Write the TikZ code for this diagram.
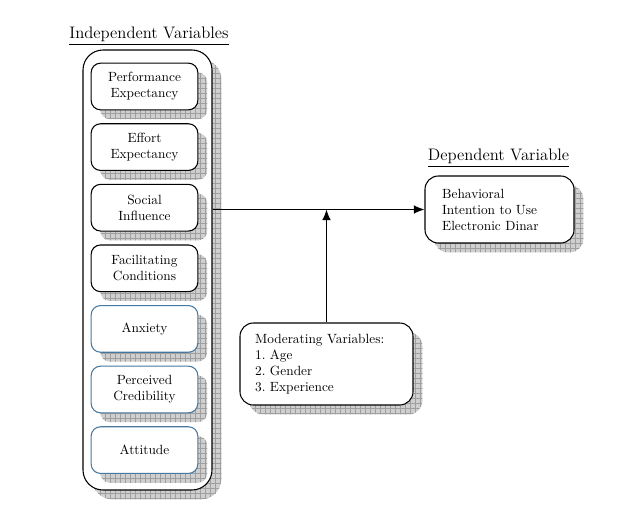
\documentclass[tikz,border=0pt]{standalone}
\usepackage{tikz}
\usepackage{xcolor}
\usetikzlibrary{shadows,patterns,arrows.meta}
\definecolor{credblue}{RGB}{70,120,160}
\pgfdeclarepatternformonly{shadowgrid}{\pgfqpoint{-0.5pt}{-0.5pt}}{\pgfqpoint{4.25pt}{4.25pt}}{\pgfqpoint{3.75pt}{3.75pt}}{
    \pgfsetlinewidth{0.35pt}
    \pgfpathmoveto{\pgfqpoint{0pt}{0pt}}\pgfpathlineto{\pgfqpoint{0pt}{3.8pt}}
    \pgfpathmoveto{\pgfqpoint{0pt}{0pt}}\pgfpathlineto{\pgfqpoint{3.8pt}{0pt}}
    \pgfusepath{stroke}}

\begin{document}
\begin{tikzpicture}[x=0.75pt,y=-0.75pt,
    gridshadow/.style={drop shadow={shadow xshift=7pt,shadow yshift=-7pt,opacity=1,fill=gray!38},
        drop shadow={shadow xshift=7pt,shadow yshift=-7pt,opacity=1,pattern=shadowgrid,pattern color=gray!75}},
    varbox/.style={draw,line width=0.8pt,fill=white,rounded corners=7pt,gridshadow,
        minimum width=80pt,minimum height=35pt,align=center,font=\fontsize{10}{12}\selectfont},
    notebox/.style={draw,line width=0.8pt,fill=white,rounded corners=10pt,gridshadow,
        align=left,font=\fontsize{10}{12}\selectfont\frenchspacing},
    heading/.style={font=\fontsize{12.5}{15}\selectfont},
    link/.style={line width=0.8pt,-{Latex[length=8pt,width=6.5pt]}}]
\useasboundingbox (0,0) rectangle (639,518);
\node[heading] (indeptitle) at (149,36) {\underline{Independent Variables}};
\node[heading] (deptitle) at (498.5,158) {\underline{Dependent Variable}};
\node[draw,line width=0.8pt,fill=white,rounded corners=15pt,gridshadow,
    minimum width=96.75pt,minimum height=330pt] (indep) at (147.5,270) {};
\foreach \nm/\txt/\col [count=\i from 0] in {perf/{Performance\\Expectancy}/black,
    effort/{Effort\\Expectancy}/black, social/{Social\\Influence}/black,
    facil/{Facilitating\\Conditions}/black, anx/{Anxiety}/credblue,
    cred/{Perceived\\Credibility}/credblue, att/{Attitude}/credblue}
    \node[varbox,draw=\col] (\nm) at (144.5,{86.5+60.6*\i}) {\txt};
\node[notebox,minimum width=111.75pt,minimum height=50.25pt,text width=86pt,inner xsep=12.75pt]
    (dep) at (499.5,209.5) {Behavioral\\Intention to Use\\Electronic Dinar};
\node[notebox,minimum width=129.75pt,minimum height=61.5pt,text width=107pt,inner xsep=11.25pt]
    (mod) at (326.5,364) {Moderating Variables:\\1. Age\\2. Gender\\3. Experience};
\draw[link] (indep.east |- dep.west) -- (dep.west);
\draw[link] (mod.north) -- (mod.north |- dep.west);
\end{tikzpicture}
\end{document}
